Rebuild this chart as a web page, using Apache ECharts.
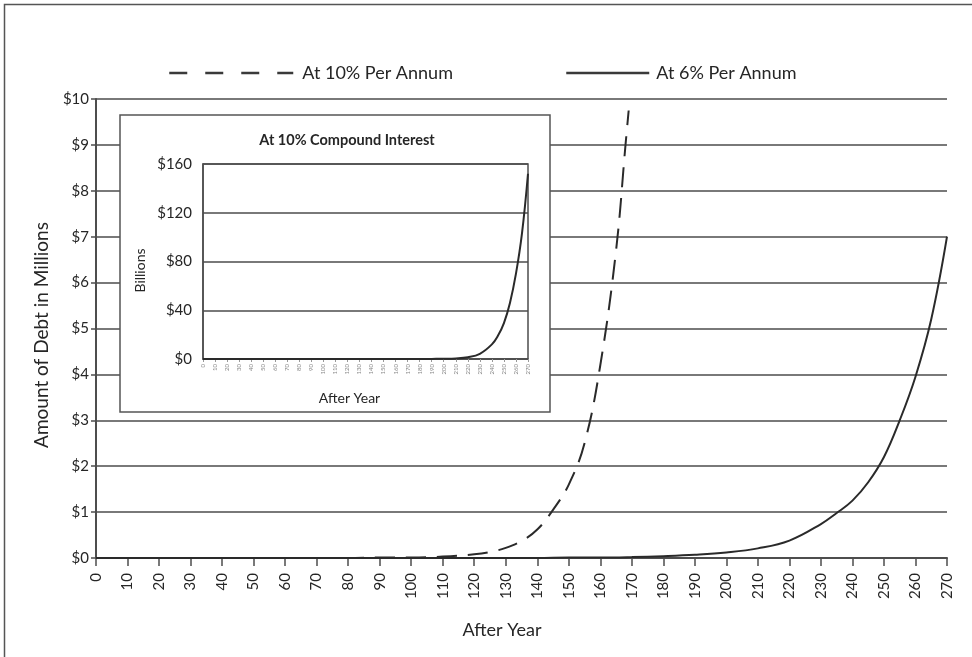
<!DOCTYPE html>
<html>
<head>
<meta charset="utf-8">
<script src="https://cdn.jsdelivr.net/npm/echarts@6/dist/echarts.min.js"></script>
<style>
html,body{margin:0;padding:0;background:#fff;}
#chart{width:972px;height:657px;}
</style>
</head>
<body>
<div id="chart"></div>
<script>
// Main chart: debt in millions
var years10 = [0,10,20,30,40,50,60,70,80,90,100,110,120,125,130,135,140,145,150,155,160,165,168,169];
var debt10  = [0,0,0,0,0,0,0,0,0,0.01,0.01,0.03,0.08,0.13,0.22,0.37,0.62,1.05,1.6,2.5,4.2,6.7,9.0,9.75];

var years6 = [0,10,20,30,40,50,60,70,80,90,100,110,120,130,140,150,160,170,180,190,200,210,220,230,235,240,245,250,255,260,265,270];
var debt6  = [0,0,0,0,0,0,0,0,0,0,0,0,0,0,0,0.01,0.01,0.02,0.04,0.07,0.12,0.21,0.38,0.74,0.98,1.25,1.65,2.2,3.0,3.95,5.2,7.0];

// Inset: 10% compound interest in billions
var insetYears = [0,10,20,30,40,50,60,70,80,90,100,110,120,130,140,150,160,170,180,190,200,210,220,230,240,245,250,255,260,265,270];
var insetBillions = [0,0,0,0,0,0,0,0,0,0,0,0,0,0,0,0,0,0,0,0.1,0.2,0.5,1.5,4.3,12,19,29.5,46,70,103,152];

var mainYLabels = ['$0','$1','$2','$3','$4','$5','$6','$7','$8','$9','$10'];
var insetYLabels = ['$0','$40','$80','$120','$160'];

var seriesNames = ['At 10% Per Annum','At 6% Per Annum'];

function pairs(xs, ys){ return xs.map(function(x,i){ return [x, ys[i]]; }); }

var FONT = "Lato, Roboto, 'Liberation Sans', sans-serif";
var INK = '#262626';
var LINE = '#4d4d4d';

var chart = echarts.init(document.getElementById('chart'), null, {renderer:'canvas'});

var option = {
  animation: false,
  backgroundColor: '#fff',
  textStyle: {fontFamily: FONT, color: INK},
  legend: [
    {
      data: [seriesNames[0]], left: 163, top: 59, itemWidth: 124, itemHeight: 14,
      textStyle: {fontFamily: FONT, fontSize: 18, color: INK, padding: [0,0,0,4]},
      itemStyle: {opacity: 0},
      lineStyle: {type: [18, 18], width: 2.5, color: '#3a3a3a', opacity: 1}
    },
    {
      data: [seriesNames[1]], left: 560, top: 59, itemWidth: 83, itemHeight: 14,
      textStyle: {fontFamily: FONT, fontSize: 18, color: INK, padding: [0,0,0,2]},
      itemStyle: {opacity: 0},
      lineStyle: {type: 'solid', width: 2.5, color: '#3a3a3a', opacity: 1}
    }
  ],
  grid: [
    {left: 96, right: 25, top: 99, bottom: 99, containLabel: false},
    {left: 203, top: 164, width: 325, height: 195, show: true, borderColor: LINE, borderWidth: 1.5, backgroundColor: '#fff', z: 5}
  ],
  xAxis: [
    {
      type: 'value', gridIndex: 0, min: 0, max: 270, interval: 10,
      name: 'After Year', nameLocation: 'middle', nameGap: 63,
      nameTextStyle: {fontFamily: FONT, fontSize: 18, color: INK, padding: [0, 39, 0, 0]},
      axisLine: {show: true, lineStyle: {color: LINE, width: 2}},
      axisTick: {show: true, length: 8, lineStyle: {color: LINE, width: 1.5}},
      axisLabel: {rotate: 90, fontSize: 15, color: INK, margin: 15, fontFamily: FONT},
      splitLine: {show: false}
    },
    {
      type: 'value', gridIndex: 1, min: 0, max: 270, interval: 10, z: 6,
      name: 'After Year', nameLocation: 'middle', nameGap: 32,
      nameTextStyle: {fontFamily: FONT, fontSize: 14, color: INK, padding: [0, 32, 0, 0]},
      axisLine: {show: true, lineStyle: {color: LINE, width: 1.5}},
      axisTick: {show: true, length: 3, lineStyle: {color: '#999', width: 1}},
      axisLabel: {rotate: 90, fontSize: 6, color: '#888', margin: 5, fontFamily: FONT},
      splitLine: {show: false}
    }
  ],
  yAxis: [
    {
      type: 'value', gridIndex: 0, min: 0, max: 10, interval: 1,
      name: 'Amount of Debt in Millions', nameLocation: 'middle', nameGap: 45, nameRotate: 90,
      nameTextStyle: {fontFamily: FONT, fontSize: 19, color: INK, padding: [0, 13, 0, 0]},
      axisLine: {show: true, lineStyle: {color: LINE, width: 2}},
      axisTick: {show: true, length: 5, lineStyle: {color: LINE, width: 1.5}},
      axisLabel: {fontSize: 15, color: INK, margin: 7, fontFamily: FONT,
        formatter: function(v){ return mainYLabels[Math.round(v)]; }},
      splitLine: {show: true, lineStyle: {color: LINE, width: 1.5}}
    },
    {
      type: 'value', gridIndex: 1, min: 0, max: 160, interval: 40, z: 6,
      name: 'Billions', nameLocation: 'middle', nameGap: 56, nameRotate: 90,
      nameTextStyle: {fontFamily: FONT, fontSize: 14, color: INK, padding: [0, 18, 0, 0]},
      axisLine: {show: true, lineStyle: {color: LINE, width: 1.5}},
      axisTick: {show: false},
      axisLabel: {fontSize: 15, color: INK, margin: 11, fontFamily: FONT,
        formatter: function(v){ return insetYLabels[Math.round(v/40)]; }},
      splitLine: {show: true, lineStyle: {color: LINE, width: 1.5}}
    }
  ],
  graphic: [
    {type: 'rect', z: 1, shape: {x: 4.5, y: 4.5, width: 1000, height: 700},
      style: {fill: 'none', stroke: '#555', lineWidth: 1.5}},
    {type: 'rect', z: 1, shape: {x: 120, y: 115, width: 430, height: 297},
      style: {fill: '#fff', stroke: '#555', lineWidth: 1.5}},
    {type: 'text', z: 10, x: 347, y: 140,
      style: {text: 'At 10% Compound Interest', fontFamily: FONT, fontSize: 14.5, fontWeight: 'bold', fill: INK,
        textAlign: 'center', textVerticalAlign: 'middle'}}
  ],
  series: [
    {
      name: seriesNames[0], type: 'line', xAxisIndex: 0, yAxisIndex: 0,
      data: pairs(years10, debt10), symbol: 'none', smooth: 0.4,
      lineStyle: {type: [20, 11], width: 2, color: '#2a2a2a'}, itemStyle: {color: '#2a2a2a'}, z: 3
    },
    {
      name: seriesNames[1], type: 'line', xAxisIndex: 0, yAxisIndex: 0,
      data: pairs(years6, debt6), symbol: 'none', smooth: 0.4,
      lineStyle: {width: 2, color: '#2a2a2a'}, itemStyle: {color: '#2a2a2a'}, z: 3
    },
    {
      name: 'inset', type: 'line', xAxisIndex: 1, yAxisIndex: 1,
      data: pairs(insetYears, insetBillions), symbol: 'none', smooth: 0.4,
      lineStyle: {width: 2, color: '#2a2a2a'}, z: 8
    }
  ]
};
chart.setOption(option);
</script>
</body>
</html>
